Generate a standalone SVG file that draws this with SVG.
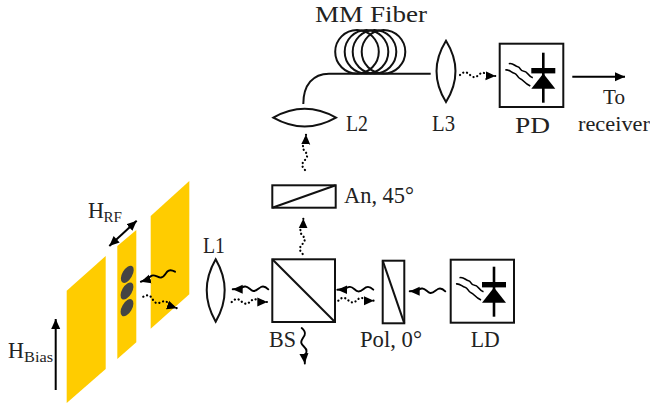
<svg xmlns="http://www.w3.org/2000/svg" width="650" height="405" viewBox="0 0 650 405">
<style>
.o{fill:none;stroke:#111;stroke-width:2}
.g{fill:#fc0;stroke:none}
.e{fill:#444;stroke:none}
.w{fill:none;stroke:#000;stroke-width:1.9;stroke-linecap:round}
.d{fill:none;stroke:#000;stroke-width:2.2;stroke-linecap:round;stroke-dasharray:0.1 3.8}
.s{fill:none;stroke:#000;stroke-width:1.6}
.l{fill:none;stroke:#000;stroke-width:2.6}
.a{fill:none;stroke:#000;stroke-width:2}
.f{fill:#000;stroke:none}
text{font-family:"Liberation Serif","Times New Roman",serif;fill:#222;font-size:23px}
.sub{font-size:14px}
</style>
<defs>
<marker id="a" markerUnits="userSpaceOnUse" markerWidth="12" markerHeight="12" refX="10" refY="5" orient="auto"><path d="M0 0.500L10 5L0 9.500z" fill="#000"/></marker>
<marker id="as" markerUnits="userSpaceOnUse" markerWidth="12" markerHeight="12" refX="0" refY="5" orient="auto"><path d="M10 0.500L0 5L10 9.500z" fill="#000"/></marker>
<path id="wave" class="w" marker-end="url(#a)" d="M0 0c3 -3 5 -3.500 7.300 -2.300s4.700 4.500 7.700 4s5 -5 8.300 -4.500s5 2.800 12.300 2.800"/>
<path id="dwave" class="d" marker-end="url(#a)" d="M0 0c3 -3 5 -3.500 7.300 -2.300s4.700 4.500 7.700 4s5 -5 8.300 -4.500s5 2.800 12.300 2.800"/>
<g id="diode">
<path class="l" d="M0 -18V32"/>
<rect class="f" x="-12" y="-2.700" width="24" height="5.400"/>
<path class="f" d="M0 2.700L12 18H-12z"/>
<path class="s" d="M-34.500 -7C-30 -8 -28.500 -4.500 -25.500 -4S-23.500 0.500 -19.500 0.500S-16 5 -10.500 7M-38 -0.700C-34 -1.500 -32 2 -29 2.500S-26 7 -23 8S-19 12.500 -13 15.300"/>
</g>
</defs>
<g id="plate-left"><path class="g" d="M66.700 290.700L105.700 256V369L66.700 403z"/></g>
<g id="plate-middle"><path class="g" d="M117.300 246L136.300 230V342.300L117.300 359z"/>
<ellipse class="e" cx="127.300" cy="274.300" rx="9.500" ry="5" transform="rotate(-60 127.300 274.300)"/>
<ellipse class="e" cx="127" cy="291" rx="9.500" ry="5" transform="rotate(-60 127 291)"/>
<ellipse class="e" cx="127" cy="307.700" rx="9.500" ry="5" transform="rotate(-60 127 307.700)"/></g>
<g id="plate-right"><path class="g" d="M150.700 216L189.300 181V294.300L150.700 328.700z"/></g>
<g id="L1"><path class="o" d="M215.700 259.300Q197.700 290.500 215.700 321.700Q233.700 290.500 215.700 259.300z"/><text x="203" y="253" textLength="22" lengthAdjust="spacingAndGlyphs">L1</text></g>
<g id="BS"><rect class="o" x="272.300" y="259.300" width="62.700" height="62.700"/><path class="o" d="M272.300 259.300L335 322"/><text x="269" y="346.700" textLength="27" lengthAdjust="spacingAndGlyphs">BS</text></g>
<g id="An"><rect class="o" x="272.300" y="185.300" width="63.400" height="22.400"/><path class="o" d="M272.300 207.700L335.700 185.300"/><text x="344" y="203" textLength="70" lengthAdjust="spacingAndGlyphs">An, 45°</text></g>
<g id="Pol"><rect class="o" x="382.700" y="260.700" width="21.600" height="62.600"/><path class="o" d="M382.700 260.700L404.300 323.300"/><text x="360" y="346.700" textLength="62" lengthAdjust="spacingAndGlyphs">Pol, 0°</text></g>
<g id="LD"><rect class="o" x="450.700" y="259.700" width="63.300" height="63"/><use href="#diode" x="494" y="284.700"/><text x="470.700" y="346.700" textLength="29" lengthAdjust="spacingAndGlyphs">LD</text></g>
<g id="L2"><path class="o" d="M273.300 117.700Q304.700 100 336 117.700Q304.700 135.400 273.300 117.700z"/><text x="346" y="130.700" textLength="22" lengthAdjust="spacingAndGlyphs">L2</text></g>
<g id="fiber"><path class="o" d="M303.300 104C303.300 85 313 73.700 329 73.700H430.700"/>
<circle class="o" cx="357" cy="51.800" r="21.800"/><circle class="o" cx="366.500" cy="51.800" r="21.800"/><circle class="o" cx="374.500" cy="51.800" r="21.800"/><circle class="o" cx="383.500" cy="51.800" r="21.800"/>
<text x="315" y="22" textLength="112" lengthAdjust="spacingAndGlyphs">MM Fiber</text></g>
<g id="L3"><path class="o" d="M446 40.700Q427 71.300 446 102Q465 71.300 446 40.700z"/><text x="432" y="130.500" textLength="23" lengthAdjust="spacingAndGlyphs">L3</text></g>
<g id="PD"><rect class="o" x="499.700" y="43.700" width="63.600" height="63.300"/><use href="#diode" x="543.300" y="70.700"/><text x="515" y="133" textLength="35" lengthAdjust="spacingAndGlyphs" style="font-size:24px">PD</text></g>
<g id="receiver"><text x="603" y="104" textLength="22" lengthAdjust="spacingAndGlyphs" style="font-size:20px">To</text><text x="578" y="130.700" textLength="72" lengthAdjust="spacingAndGlyphs" style="font-size:20px">receiver</text></g>
<g id="H-RF"><text x="88" y="217.700" textLength="16" lengthAdjust="spacingAndGlyphs">H</text><text class="sub" x="103.500" y="221.700" textLength="18.500" lengthAdjust="spacingAndGlyphs">RF</text></g>
<g id="H-Bias"><text x="8" y="358" textLength="16" lengthAdjust="spacingAndGlyphs">H</text><text class="sub" x="24" y="362" textLength="29" lengthAdjust="spacingAndGlyphs">Bias</text></g>
<g id="connectors">
<path class="a" d="M55.700 390V319" marker-end="url(#a)"/>
<path class="a" d="M109.300 246L136.700 220.700" marker-start="url(#as)" marker-end="url(#a)"/>
<path class="a" d="M572.300 76.700H625" marker-end="url(#a)"/>
<use href="#wave" transform="translate(175 271.700) rotate(163.600) scale(1 -1)"/>
<use href="#dwave" transform="translate(143.300 296.700) rotate(18.900)"/>
<use href="#wave" transform="translate(268.300 289.300) scale(-1 1)"/>
<use href="#dwave" transform="translate(231.700 302)"/>
<use href="#wave" transform="translate(373.300 289.700) scale(-1.010 1)"/>
<use href="#dwave" transform="translate(338.300 300.700)"/>
<use href="#wave" transform="translate(445.300 291.300) scale(-1 1)"/>
<use href="#dwave" transform="translate(302.700 254) rotate(-89)"/>
<use href="#dwave" transform="translate(305 170) rotate(-88.400)"/>
<use href="#wave" transform="translate(301.700 328) rotate(85)"/>
<use href="#dwave" transform="translate(460 75) rotate(1.600)"/>
</g>
</svg>
